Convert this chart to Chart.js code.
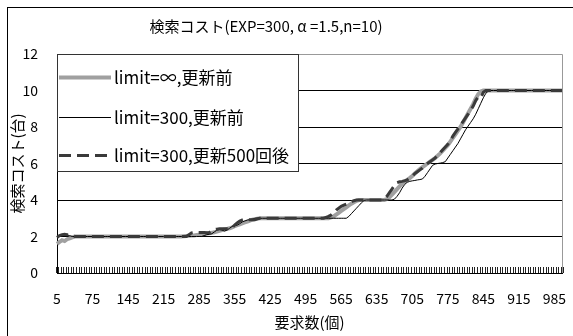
<!DOCTYPE html>
<html>
<head>
<meta charset="utf-8">
<script src="https://cdn.jsdelivr.net/npm/chart.js@4.4.0/dist/chart.umd.min.js"></script>
<style>
  body { margin: 0; background: #fff; }
</style>
</head>
<body>
<canvas id="costChart" width="573" height="336"></canvas>
<script>
// 要求数 (categories, every 5 requests)
var requestCounts = [
  5, 10, 15, 20, 25, 30, 35, 40, 45, 50, 55, 60, 65, 70, 75, 80, 85, 90, 95, 100,
  105, 110, 115, 120, 125, 130, 135, 140, 145, 150, 155, 160, 165, 170, 175, 180, 185, 190, 195, 200,
  205, 210, 215, 220, 225, 230, 235, 240, 245, 250, 255, 260, 265, 270, 275, 280, 285, 290, 295, 300,
  305, 310, 315, 320, 325, 330, 335, 340, 345, 350, 355, 360, 365, 370, 375, 380, 385, 390, 395, 400,
  405, 410, 415, 420, 425, 430, 435, 440, 445, 450, 455, 460, 465, 470, 475, 480, 485, 490, 495, 500,
  505, 510, 515, 520, 525, 530, 535, 540, 545, 550, 555, 560, 565, 570, 575, 580, 585, 590, 595, 600,
  605, 610, 615, 620, 625, 630, 635, 640, 645, 650, 655, 660, 665, 670, 675, 680, 685, 690, 695, 700,
  705, 710, 715, 720, 725, 730, 735, 740, 745, 750, 755, 760, 765, 770, 775, 780, 785, 790, 795, 800,
  805, 810, 815, 820, 825, 830, 835, 840, 845, 850, 855, 860, 865, 870, 875, 880, 885, 890, 895, 900,
  905, 910, 915, 920, 925, 930, 935, 940, 945, 950, 955, 960, 965, 970, 975, 980, 985, 990, 995, 1000
];

var tickLabels = ['5', '75', '145', '215', '285', '355', '425', '495', '565', '635', '705', '775', '845', '915', '985'];

var seriesNames = ['limit=∞,更新前', 'limit=300,更新前', 'limit=300,更新500回後'];

// limit=∞,更新前
var costInfBefore = [
  1.6, 1.7, 1.8, 1.75, 1.85, 1.9, 1.95, 2, 2, 2, 2, 2, 2, 2, 2, 2, 2, 2, 2, 2,
  2, 2, 2, 2, 2, 2, 2, 2, 2, 2, 2, 2, 2, 2, 2, 2, 2, 2, 2, 2,
  2, 2, 2, 2, 2, 2, 2, 2, 2, 2, 2.02, 2.03, 2.04, 2.05, 2.06, 2.08, 2.1, 2.12, 2.14, 2.16,
  2.18, 2.2, 2.23, 2.27, 2.31, 2.35, 2.38, 2.42, 2.45, 2.5, 2.56, 2.62, 2.67, 2.72, 2.77, 2.82, 2.87, 2.92, 2.95, 2.98,
  3, 3, 3, 3, 3, 3, 3, 3, 3, 3, 3, 3, 3, 3, 3, 3, 3, 3, 3, 3,
  3, 3, 3, 3, 3, 3, 3, 3, 3.05, 3.1, 3.2, 3.3, 3.4, 3.5, 3.6, 3.7, 3.8, 3.88, 3.95, 4,
  4, 4, 4, 4, 4, 4, 4, 4, 4, 4, 4.05, 4.15, 4.3, 4.45, 4.6, 4.75, 4.9, 5, 5.1, 5.2,
  5.32, 5.45, 5.58, 5.7, 5.8, 5.9, 6, 6.1, 6.2, 6.3, 6.42, 6.55, 6.7, 6.85, 7, 7.2, 7.4, 7.6, 7.8, 8,
  8.25, 8.5, 8.75, 9, 9.25, 9.55, 9.8, 9.95, 10, 10, 10, 10, 10, 10, 10, 10, 10, 10, 10, 10,
  10, 10, 10, 10, 10, 10, 10, 10, 10, 10, 10, 10, 10, 10, 10, 10, 10, 10, 10, 10
];

// limit=300,更新前
var cost300Before = [
  1.9, 2, 2.1, 2.1, 2.08, 2.05, 2, 2, 2, 2, 2, 2, 2, 2, 2, 2, 2, 2, 2, 2,
  2, 2, 2, 2, 2, 2, 2, 2, 2, 2, 2, 2, 2, 2, 2, 2, 2, 2, 2, 2,
  2, 2, 2, 2, 2, 2, 2, 2, 2, 2, 2, 2, 2, 2, 2, 2, 2, 2, 2.05, 2.1,
  2.12, 2.15, 2.25, 2.35, 2.38, 2.35, 2.3, 2.35, 2.45, 2.55, 2.6, 2.62, 2.7, 2.8, 2.85, 2.9, 2.92, 2.95, 3, 3,
  3, 3, 3, 3, 3, 3, 3, 3, 3, 3, 3, 3, 3, 3, 3, 3, 3, 3, 3, 3,
  3, 3, 3, 3, 3, 3, 3, 3, 3, 3, 3, 3, 3, 3, 3, 3.1, 3.25, 3.4, 3.55, 3.7,
  3.85, 3.98, 4, 4, 4, 4, 4, 4, 4, 4, 4, 4, 4, 4.05, 4.2, 4.4, 4.65, 4.85, 4.97, 5.02,
  5.05, 5.07, 5.1, 5.12, 5.15, 5.3, 5.5, 5.7, 5.9, 5.97, 6, 6.02, 6.05, 6.1, 6.3, 6.5, 6.7, 6.9, 7.1, 7.35,
  7.6, 7.85, 8.05, 8.25, 8.45, 8.7, 9, 9.3, 9.6, 9.85, 9.97, 10, 10, 10, 10, 10, 10, 10, 10, 10,
  10, 10, 10, 10, 10, 10, 10, 10, 10, 10, 10, 10, 10, 10, 10, 10, 10, 10, 10, 10
];

// limit=300,更新500回後
var cost300After = [
  1.95, 2.05, 2.1, 2.12, 2.1, 2.1, 2.05, 2, 2, 2, 2, 2, 2, 2, 2, 2, 2, 2, 2, 2,
  2, 2, 2, 2, 2, 2, 2, 2, 2, 2, 2, 2, 2, 2, 2, 2, 2, 2, 2, 2,
  2, 2, 2, 2, 2, 2, 2, 2, 2, 2, 2, 2, 2.1, 2.2, 2.22, 2.22, 2.22, 2.22, 2.22, 2.2,
  2.22, 2.3, 2.38, 2.4, 2.42, 2.42, 2.42, 2.42, 2.42, 2.5, 2.62, 2.75, 2.85, 2.9, 2.92, 2.92, 2.92, 2.92, 2.92, 2.97,
  3, 3, 3, 3, 3, 3, 3, 3, 3, 3, 3, 3, 3, 3, 3, 3, 3, 3, 3, 3,
  3, 3, 3, 3, 3, 3, 3.05, 3.1, 3.18, 3.3, 3.45, 3.55, 3.65, 3.72, 3.78, 3.83, 3.9, 3.96, 4, 4,
  4, 4, 4, 4, 4, 4, 4, 4, 4, 4.05, 4.2, 4.4, 4.6, 4.8, 4.95, 5, 5.02, 5.05, 5.1, 5.2,
  5.3, 5.45, 5.55, 5.65, 5.75, 5.9, 6, 6.1, 6.2, 6.3, 6.45, 6.6, 6.75, 6.9, 7.05, 7.25, 7.5, 7.7, 7.9, 8.1,
  8.3, 8.5, 8.7, 8.9, 9.15, 9.45, 9.65, 9.6, 9.9, 10, 10, 10, 10, 10, 10, 10, 10, 10, 10, 10,
  10, 10, 10, 10, 10, 10, 10, 10, 10, 10, 10, 10, 10, 10, 10, 10, 10, 10, 10, 10
];

var FONT = '"Noto Sans CJK JP", "Noto Sans", sans-serif';
var chartTitle = '検索コスト(EXP=300, α =1.5,n=10)';

var seriesStyles = [
  { color: '#a0a0a0', width: 4, dash: [] },
  { color: '#000000', width: 1, dash: [] },
  { color: '#3a3a3a', width: 3, dash: [12, 6] }
];

// frame, plot border, inner x ticks, title and the boxed legend
var excelLook = {
  id: 'excelLook',
  beforeDraw: function (chart) {
    var ctx = chart.ctx;
    ctx.save();
    ctx.fillStyle = '#fff';
    ctx.fillRect(0, 0, chart.width, chart.height);
    ctx.strokeStyle = '#000';
    ctx.lineWidth = 1;
    ctx.strokeRect(7.5, 7.5, chart.width + 10, chart.height + 10);
    ctx.fillStyle = '#000';
    ctx.font = '15px ' + FONT;
    ctx.textAlign = 'center';
    ctx.textBaseline = 'middle';
    ctx.fillText(chartTitle, 266, 26);
    ctx.restore();
  },
  beforeDatasetsDraw: function (chart) {
    var ctx = chart.ctx;
    var a = chart.chartArea;
    var xs = chart.scales.x;
    ctx.save();
    ctx.strokeStyle = '#999';
    ctx.lineWidth = 1;
    ctx.beginPath();
    ctx.moveTo(a.left, a.top + 0.5);
    ctx.lineTo(a.right + 0.5, a.top + 0.5);
    ctx.lineTo(a.right + 0.5, a.bottom);
    ctx.stroke();
    // small upward tick marks between categories
    var half = (xs.getPixelForValue(1) - xs.getPixelForValue(0)) / 2;
    ctx.strokeStyle = '#222';
    ctx.beginPath();
    for (var i = 0; i <= requestCounts.length; i++) {
      var px = Math.round(xs.getPixelForValue(i) - half) + 0.5;
      ctx.moveTo(px, a.bottom);
      ctx.lineTo(px, a.bottom - 6);
    }
    ctx.stroke();
    ctx.restore();
  },
  afterDraw: function (chart) {
    var ctx = chart.ctx;
    var a = chart.chartArea;
    ctx.save();
    ctx.fillStyle = '#fff';
    ctx.fillRect(a.left, a.top, 298 - a.left, 171 - a.top);
    ctx.strokeStyle = '#333';
    ctx.lineWidth = 1;
    ctx.strokeRect(a.left + 0.5, a.top + 0.5, 298 - a.left, 171 - a.top);
    var rows = [77, 117, 155];
    ctx.font = '17px ' + FONT;
    ctx.textAlign = 'left';
    ctx.textBaseline = 'middle';
    for (var i = 0; i < seriesNames.length; i++) {
      var st = seriesStyles[i];
      ctx.strokeStyle = st.color;
      ctx.lineWidth = st.width;
      ctx.setLineDash(st.dash);
      ctx.beginPath();
      ctx.moveTo(59, rows[i] + 0.5);
      ctx.lineTo(111, rows[i] + 0.5);
      ctx.stroke();
      ctx.setLineDash([]);
      ctx.fillStyle = '#000';
      ctx.fillText(seriesNames[i], 114, rows[i] + 1);
    }
    ctx.restore();
  }
};

var seriesData = [costInfBefore, cost300Before, cost300After];
var datasets = [];
for (var s = 0; s < seriesData.length; s++) {
  datasets.push({
    label: seriesNames[s],
    data: seriesData[s],
    borderColor: seriesStyles[s].color,
    borderWidth: seriesStyles[s].width,
    borderDash: seriesStyles[s].dash,
    pointRadius: 0,
    tension: 0,
    fill: false,
    order: 3 - s
  });
}

var ctx = document.getElementById('costChart').getContext('2d');
var costChart = new Chart(ctx, {
  type: 'line',
  data: {
    labels: requestCounts,
    datasets: datasets
  },
  options: {
    responsive: false,
    animation: false,
    layout: { padding: { top: 54, right: 11, left: 0, bottom: 0 } },
    plugins: {
      legend: { display: false },
      title: { display: false },
      tooltip: { enabled: false }
    },
    scales: {
      x: {
        grid: { display: false, drawTicks: false },
        border: { color: '#000', width: 1 },
        ticks: {
          autoSkip: false,
          maxRotation: 0,
          minRotation: 0,
          padding: 17,
          color: '#000',
          font: { family: FONT, size: 14 },
          callback: function (value) {
            var lab = String(this.getLabelForValue(value));
            return tickLabels.indexOf(lab) >= 0 ? lab : '';
          }
        },
        title: {
          display: true,
          text: '要求数(個)',
          color: '#000',
          font: { family: FONT, size: 15 },
          padding: { top: 0, bottom: 5 }
        },
        afterFit: function (scale) {
          scale.height = 63;
          scale.paddingLeft = 0;
          scale.paddingRight = 0;
        }
      },
      y: {
        min: 0,
        max: 12,
        ticks: {
          stepSize: 2,
          padding: 19,
          color: '#000',
          font: { family: FONT, size: 14 }
        },
        grid: {
          drawTicks: false,
          color: function (c) {
            return (c.tick.value === 0 || c.tick.value === 12) ? 'rgba(0,0,0,0)' : '#000';
          }
        },
        border: { color: '#000', width: 1 },
        title: {
          display: true,
          text: '検索コスト(台)',
          color: '#000',
          font: { family: FONT, size: 15 },
          padding: { top: 8, bottom: 0 }
        },
        afterFit: function (scale) {
          scale.width = 57;
          scale.paddingTop = 0;
          scale.paddingBottom = 0;
        }
      }
    }
  },
  plugins: [excelLook]
});
</script>
</body>
</html>
